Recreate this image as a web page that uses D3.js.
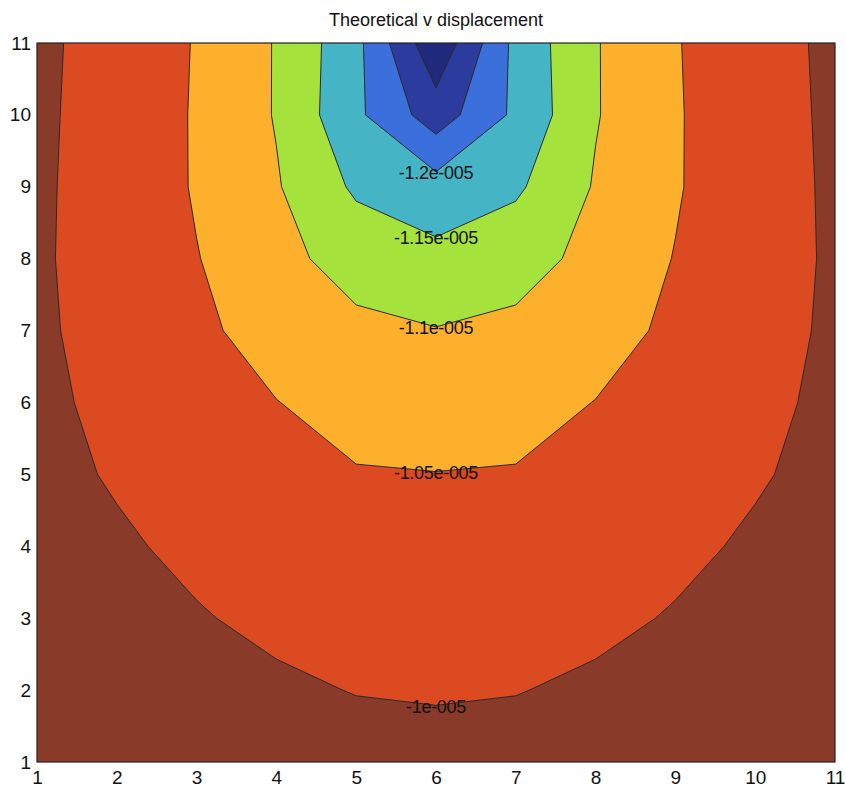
<!DOCTYPE html>
<html>
<head>
<meta charset="utf-8">
<script src="https://cdn.jsdelivr.net/npm/d3@7"></script>
<style>
  body { margin: 0; background: #fff; }
  svg text { font-family: Arial, "Liberation Sans", Helvetica, sans-serif; }
</style>
</head>
<body>
<svg id="chart" width="846" height="794"></svg>
<script>
// Grid coordinates
const xValues = [1, 2, 3, 4, 5, 6, 7, 8, 9, 10, 11];
const yValues = [1, 2, 3, 4, 5, 6, 7, 8, 9, 10, 11];

// Theoretical v displacement, in units of 1e-5, one row per y (1 .. 11)
const unit = 1e-5;
const vY1  = [-0.968, -0.973, -0.978, -0.983, -0.986, -0.987, -0.986, -0.983, -0.978, -0.973, -0.968];
const vY2  = [-0.972, -0.981, -0.988, -0.9941, -1.0012, -1.0035, -1.0012, -0.9941, -0.988, -0.981, -0.972];
const vY3  = [-0.976, -0.988, -0.9974, -1.0078, -1.012, -1.015, -1.012, -1.0078, -0.9974, -0.988, -0.976];
const vY4  = [-0.981, -0.995, -1.0078, -1.015, -1.025, -1.030, -1.025, -1.015, -1.0078, -0.995, -0.981];
const vY5  = [-0.989, -1.0035, -1.017, -1.033, -1.047, -1.049, -1.047, -1.033, -1.017, -1.0035, -0.989];
const vY6  = [-0.9965, -1.004, -1.030, -1.049, -1.068, -1.074, -1.068, -1.049, -1.030, -1.004, -0.9965];
const vY7  = [-0.9979, -1.005, -1.040, -1.070, -1.090, -1.098, -1.090, -1.070, -1.040, -1.005, -0.9979];
const vY8  = [-0.9982, -1.006, -1.048, -1.087, -1.118, -1.137, -1.118, -1.087, -1.048, -1.006, -0.9982];
const vY9  = [-0.9973, -1.008, -1.055, -1.096, -1.158, -1.180, -1.158, -1.096, -1.055, -1.008, -0.9973];
const vY10 = [-0.9959, -1.010, -1.055, -1.103, -1.190, -1.276, -1.190, -1.103, -1.055, -1.010, -0.9959];
const vY11 = [-0.9925, -1.015, -1.053, -1.103, -1.186, -1.340, -1.186, -1.103, -1.053, -1.015, -0.9925];
const vRows = [vY1, vY2, vY3, vY4, vY5, vY6, vY7, vY8, vY9, vY10, vY11];

// Contour levels (units of 1e-5) and the fill of each band, lowest first
const levels = [-1.3, -1.25, -1.2, -1.15, -1.1, -1.05, -1.0];
const bandColors = ["#1f2a7c", "#2b3c9e", "#3a6fdc", "#45b5c6", "#a6e23c", "#fcb02b", "#dc4a22", "#8a3a28"];
const labelLevels = [-1.2, -1.15, -1.1, -1.05, -1.0];

const xTicks = [1, 2, 3, 4, 5, 6, 7, 8, 9, 10, 11];
const yTicks = [1, 2, 3, 4, 5, 6, 7, 8, 9, 10, 11];
const titleText = "Theoretical v displacement";

const svg = d3.select("#chart");
const plot = { left: 37, right: 835, top: 43, bottom: 762 };

const x = d3.scaleLinear().domain([1, 11]).range([plot.left, plot.right]);
const y = d3.scaleLinear().domain([1, 11]).range([plot.bottom, plot.top]);

const nx = xValues.length, ny = yValues.length;
const grid = vRows.flat().map(v => v * unit);

// d3.contours puts sample i at grid coordinate i + 0.5
const toScreen = d3.geoTransform({
  point(gx, gy) {
    const dx = xValues[0] + (gx - 0.5) * (xValues[1] - xValues[0]);
    const dy = yValues[0] + (gy - 0.5) * (yValues[1] - yValues[0]);
    this.stream.point(x(dx), y(dy));
  }
});
const path = d3.geoPath(toScreen);

const contours = d3.contours()
  .size([nx, ny])
  .smooth(true)
  .thresholds(levels.map(l => l * unit))(grid);

svg.append("defs").append("clipPath").attr("id", "plot-clip")
  .append("rect")
  .attr("x", plot.left).attr("y", plot.top)
  .attr("width", plot.right - plot.left).attr("height", plot.bottom - plot.top);

const body = svg.append("g").attr("clip-path", "url(#plot-clip)");

// lowest band underneath everything
body.append("rect")
  .attr("x", plot.left).attr("y", plot.top)
  .attr("width", plot.right - plot.left).attr("height", plot.bottom - plot.top)
  .attr("fill", bandColors[0]);

body.selectAll("path.band")
  .data(contours)
  .join("path")
  .attr("class", "band")
  .attr("d", path)
  .attr("fill", (d, i) => bandColors[i + 1])
  .attr("stroke", "#2a2a2a")
  .attr("stroke-width", 1)
  .attr("stroke-linejoin", "round");

// contour labels where each labelled level crosses the middle column
const midCol = Math.floor(nx / 2);
function crossingY(level) {
  const col = vRows.map(r => r[midCol]);
  for (let j = 0; j < col.length - 1; j++) {
    const a = col[j], b = col[j + 1];
    if ((a - level) * (b - level) <= 0 && a !== b) {
      return yValues[j] + (level - a) / (b - a) * (yValues[j + 1] - yValues[j]);
    }
  }
  return null;
}
const labelG = svg.append("g");
labelLevels.forEach(l => {
  const cy = crossingY(l);
  if (cy === null) return;
  labelG.append("text")
    .attr("x", x(xValues[midCol]))
    .attr("y", y(cy))
    .attr("dy", "0.4em")
    .attr("text-anchor", "middle")
    .attr("font-size", 18)
    .attr("letter-spacing", "-0.3px")
    .attr("fill", "#111")
    .text(String(l) + "e-005");
});

// frame
svg.append("rect")
  .attr("x", plot.left).attr("y", plot.top)
  .attr("width", plot.right - plot.left).attr("height", plot.bottom - plot.top)
  .attr("fill", "none").attr("stroke", "#222").attr("stroke-width", 1.2);

// axes
const xAxis = svg.append("g")
  .attr("transform", `translate(0,${plot.bottom})`)
  .call(d3.axisBottom(x).tickValues(xTicks).tickSize(0).tickPadding(9).tickFormat(d3.format("d")));
const yAxis = svg.append("g")
  .attr("transform", `translate(${plot.left},0)`)
  .call(d3.axisLeft(y).tickValues(yTicks).tickSize(0).tickPadding(6).tickFormat(d3.format("d")));
[xAxis, yAxis].forEach(g => {
  g.select(".domain").remove();
  g.selectAll("text").attr("font-size", 19).attr("fill", "#111")
    .style("font-family", "Arial, 'Liberation Sans', sans-serif");
});

svg.append("text")
  .attr("x", (plot.left + plot.right) / 2)
  .attr("y", 26)
  .attr("text-anchor", "middle")
  .attr("font-size", 18)
  .attr("fill", "#111")
  .text(titleText);
</script>
</body>
</html>
